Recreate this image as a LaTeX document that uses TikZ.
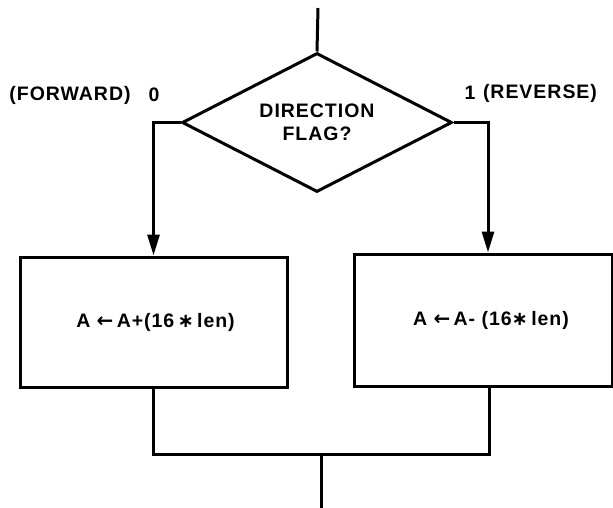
\documentclass[tikz,border=0pt]{standalone}
\usepackage{fontspec}
\setmainfont{Liberation Sans}[LetterSpace=5]
\newfontfamily\symfont{DejaVu Sans}
\usetikzlibrary{arrows.meta,shapes.geometric}
\begin{document}
\begin{tikzpicture}[x=1pt,y=-1pt,line width=3pt,
  every node/.style={font=\fontsize{19.5}{23}\selectfont\bfseries},
  flowbox/.style={draw,rectangle,inner sep=0pt},
  decision/.style={draw,diamond,inner sep=0pt,aspect=1.94,align=center,
    minimum width=270pt,minimum height=139pt},
  flow/.style={-{Triangle[length=21pt,width=12pt]}},
  lbl/.style={inner sep=0pt}]
\useasboundingbox (0,0) rectangle (613,508);
\node[decision] (d) at (317,122.5) {DIRECTION\\FLAG?};
\node[flowbox,minimum width=267pt,minimum height=130pt] (lbox) at (153.5,322)
  {\hspace*{4pt}A {\symfont\fontsize{20}{20}\selectfont ←}\,A+(16\,{\symfont ∗}\,len)};
\node[flowbox,minimum width=258pt,minimum height=132pt] (rbox) at (483,320)
  {\hspace*{16pt}A {\symfont\fontsize{20}{20}\selectfont ←}\,A- (16{\symfont ∗}\,len)};
\node[lbl] (fwd) at (70,95) {(FORWARD)};
\node[lbl] (zero) at (154,95) {0};
\node[lbl] (one) at (470,93) {1};
\node[lbl] (rev) at (540,93) {(REVERSE)};
\coordinate (top) at (318,8);
\coordinate (mR) at (489,454);
\coordinate (mid) at (321,454);
\coordinate (out) at (321,508);
\draw (top) -- (d.north);
\draw[flow] (d.west) -| (lbox.north);
\draw[flow] (d.east) -| ([xshift=5pt]rbox.north);
\draw (lbox.south) |- (mR) -- ([xshift=6pt]rbox.south);
\draw (mid) -- (out);
\end{tikzpicture}
\end{document}
